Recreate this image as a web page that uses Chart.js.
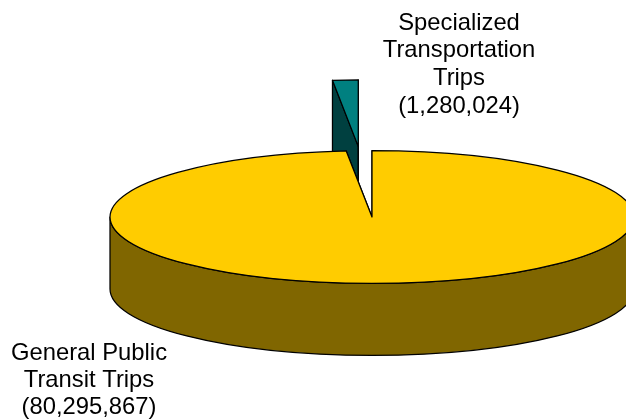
<!DOCTYPE html>
<html>
<head>
<meta charset="utf-8">
<style>
  html, body { margin: 0; padding: 0; background: #fff; }
  canvas { display: block; }
</style>
</head>
<body>
<canvas id="pie" width="626" height="419"></canvas>
<script src="https://cdn.jsdelivr.net/npm/chart.js@4"></script>
<script>
// Data
const categories = ['Specialized Transportation Trips', 'General Public Transit Trips'];
const trips = [1280024, 80295867];
const tickLabels = [
  ['Specialized', 'Transportation', 'Trips', '(1,280,024)'],
  ['General Public', 'Transit Trips', '(80,295,867)'],
];
const topColors = ['#008080', '#ffcc00'];
const wallColors = ['#004040', '#806600'];
const explode = [279, 0];

// 3D look
const tilt = 0.2535;
const depth = 72;
const total = trips[0] + trips[1];

function drawWall(ctx, arc, i, cx, cy) {
  const r = arc.outerRadius;
  const ry = r * tilt;
  ctx.fillStyle = wallColors[i];
  ctx.strokeStyle = '#000';
  ctx.lineWidth = 1.25;
  ctx.lineJoin = 'round';

  // cut faces
  [arc.startAngle, arc.endAngle].forEach(a => {
    const px = cx + Math.cos(a) * r;
    const py = cy + Math.sin(a) * ry;
    ctx.beginPath();
    ctx.moveTo(cx, cy);
    ctx.lineTo(px, py);
    ctx.lineTo(px, py + depth);
    ctx.lineTo(cx, cy + depth);
    ctx.closePath();
    ctx.fill();
    ctx.stroke();
  });

  // front of the rim
  const a0 = Math.max(arc.startAngle, 0);
  const a1 = Math.min(arc.endAngle, Math.PI);
  if (a1 > a0) {
    ctx.beginPath();
    ctx.ellipse(cx, cy, r, ry, 0, a0, a1);
    ctx.ellipse(cx, cy + depth, r, ry, 0, a1, a0, true);
    ctx.closePath();
    ctx.fill();
    ctx.stroke();
  }
}

function drawTop(ctx, arc, cx, cy) {
  ctx.save();
  ctx.translate(cx, cy);
  ctx.scale(1, tilt);
  ctx.translate(-arc.x, -arc.y);
  arc.draw(ctx);
  ctx.beginPath();
  ctx.moveTo(arc.x, arc.y);
  ctx.arc(arc.x, arc.y, arc.outerRadius, arc.startAngle, arc.endAngle);
  ctx.closePath();
  ctx.restore();
  // stroke outside the squash so the outline stays even
  ctx.strokeStyle = '#000';
  ctx.lineWidth = 1.25;
  ctx.lineJoin = 'round';
  ctx.stroke();
}

const pie3d = {
  id: 'pie3d',
  beforeDatasetsDraw(chart) {
    const ctx = chart.ctx;
    chart.getDatasetMeta(0).data.forEach((arc, i) => {
      const mid = (arc.startAngle + arc.endAngle) / 2;
      const cx = arc.x + Math.cos(mid) * explode[i];
      const cy = arc.y + Math.sin(mid) * explode[i] * tilt;
      drawWall(ctx, arc, i, cx, cy);
      drawTop(ctx, arc, cx, cy);
    });
    return false;
  },
  afterDraw(chart) {
    const ctx = chart.ctx;
    ctx.save();
    ctx.fillStyle = '#000';
    ctx.font = '23.8px "Liberation Sans", Arial, sans-serif';
    ctx.textAlign = 'center';
    ctx.textBaseline = 'alphabetic';
    tickLabels[0].forEach((line, i) => ctx.fillText(line, 459, 29.5 + i * 27.9));
    tickLabels[1].forEach((line, i) => ctx.fillText(line, 89, 360 + i * 27));
    ctx.restore();
  },
};

new Chart(document.getElementById('pie'), {
  type: 'pie',
  data: {
    labels: categories,
    datasets: [{
      data: trips,
      backgroundColor: topColors,
      borderWidth: 0,
      clip: false,
    }],
  },
  options: {
    responsive: false,
    animation: false,
    rotation: -360 * trips[0] / total,
    radius: 262,
    layout: { padding: { left: 118, top: 15 } },
    plugins: { legend: { display: false }, tooltip: { enabled: false } },
  },
  plugins: [pie3d],
});
</script>
</body>
</html>
